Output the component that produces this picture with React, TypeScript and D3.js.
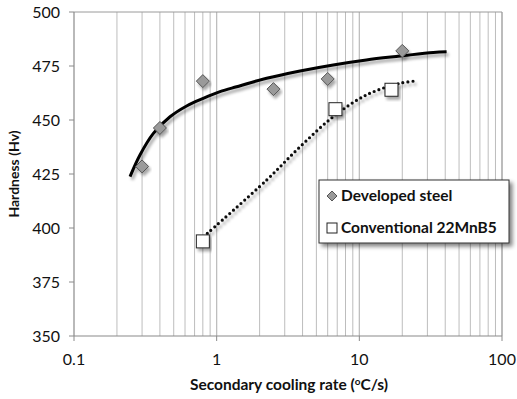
import React from "react";
import * as d3 from "d3";

const W = 517, H = 399;
const margin = { left: 74, right: 15, top: 12, bottom: 63 };

const xTicks = [0.1, 1, 10, 100];
const yTicks = [350, 375, 400, 425, 450, 475, 500];

const developedX = [0.3, 0.4, 0.8, 2.5, 6, 20];
const developedY = [428.5, 446.3, 468, 464.3, 469, 482];
const conventionalX = [0.8, 6.8, 16.8];
const conventionalY = [393.8, 455, 464];

// trend curves
const developedFitX = [0.247, 0.29, 0.36, 0.471, 0.616, 0.805, 1.055, 1.38, 2.24, 3.84, 6.56, 11.2, 19.3, 33, 40.9];
const developedFitY = [423.8, 433.8, 443.8, 451.5, 456.5, 460.0, 463.1, 465.4, 469.3, 472.7, 475.5, 477.8, 479.6, 481.3, 481.6];
const conventionalFitX = [0.86, 2.24, 3.84, 6.56, 11.2, 19.3, 25.2];
const conventionalFitY = [397.5, 422.2, 437.6, 451.5, 461.6, 467.0, 468.1];

const seriesNames = ["Developed steel", "Conventional 22MnB5"];

export default function App() {
  const x = d3.scaleLog().domain([0.1, 100]).range([margin.left, W - margin.right]);
  const y = d3.scaleLinear().domain([350, 500]).range([H - margin.bottom, margin.top]);
  const minor: number[] = [];
  for (let e = -1; e < 2; e++) {
    for (let k = 1; k <= 10; k++) {
      const v = k * Math.pow(10, e);
      if (v > 0.1 + 1e-9) minor.push(v);
    }
  }
  const line = d3.line<[number, number]>().x(d => x(d[0])).y(d => y(d[1])).curve(d3.curveCatmullRom.alpha(0.5));
  const devFit = line(developedFitX.map((v, i) => [v, developedFitY[i]] as [number, number]))!;
  const conFit = line(conventionalFitX.map((v, i) => [v, conventionalFitY[i]] as [number, number]))!;
  const font = "Lato, 'Open Sans', sans-serif";
  const x0 = margin.left, x1 = W - margin.right, y0 = H - margin.bottom, y1 = margin.top;
  const diamond = (cx: number, cy: number, r: number) =>
    `M${cx},${cy - r}L${cx + r},${cy}L${cx},${cy + r}L${cx - r},${cy}Z`;
  const lx = 319, ly = 180, lw = 190, lh = 63;
  return (
    <svg width={W} height={H} style={{ position: "absolute", left: 0, top: 0, background: "#fff" }}>
      <defs>
        <filter id="sh" x="-20%" y="-20%" width="140%" height="160%">
          <feGaussianBlur in="SourceAlpha" stdDeviation="1.5" />
          <feOffset dx="2" dy="3" result="b" />
          <feComponentTransfer><feFuncA type="linear" slope="0.35" /></feComponentTransfer>
          <feMerge><feMergeNode /><feMergeNode in="SourceGraphic" /></feMerge>
        </filter>
        <filter id="sh2" x="-20%" y="-20%" width="150%" height="160%">
          <feGaussianBlur in="SourceAlpha" stdDeviation="2" />
          <feOffset dx="3" dy="3" result="b" />
          <feComponentTransfer><feFuncA type="linear" slope="0.5" /></feComponentTransfer>
          <feMerge><feMergeNode /><feMergeNode in="SourceGraphic" /></feMerge>
        </filter>
      </defs>
      <rect x={0} y={0} width={W} height={H} fill="#fff" />
      {minor.map((v, i) => (
        <line key={i} x1={x(v)} x2={x(v)} y1={y1} y2={y0} stroke="#bdbdbd" strokeWidth={1} />
      ))}
      <line x1={x0} x2={x1} y1={y1} y2={y1} stroke="#9a9a9a" />
      <line x1={x1} x2={x1} y1={y1} y2={y0} stroke="#9a9a9a" />
      <line x1={x0} x2={x0} y1={y1} y2={y0} stroke="#8a8a8a" strokeWidth={1.2} />
      <line x1={x0} x2={x1} y1={y0} y2={y0} stroke="#8a8a8a" strokeWidth={1.2} />
      {yTicks.map(t => (
        <g key={t}>
          <line x1={x0 - 5} x2={x0} y1={y(t)} y2={y(t)} stroke="#8a8a8a" />
          <text x={x0 - 14} y={y(t) + 5.5} textAnchor="end" fontFamily={font} fontSize={16} fill="#111">{t}</text>
        </g>
      ))}
      {xTicks.map(t => (
        <g key={t}>
          <line x1={x(t)} x2={x(t)} y1={y0} y2={y0 + 5} stroke="#8a8a8a" />
          <text x={x(t)} y={365} textAnchor="middle" fontFamily={font} fontSize={16} fill="#111">{t}</text>
        </g>
      ))}
      <text x={289} y={390} textAnchor="middle" fontFamily={font} fontSize={15.5} fontWeight="bold" fill="#111">
        Secondary cooling rate (<tspan dy={-5} fontSize={10}>o</tspan><tspan dy={5}>C/s)</tspan>
      </text>
      <text transform={`translate(19,${(y0 + y1) / 2}) rotate(-90)`} textAnchor="middle" fontFamily={font} fontSize={14} fontWeight="bold" fill="#111">
        Hardness (Hv)
      </text>
      <path d={devFit} fill="none" stroke="#000" strokeWidth={3} filter="url(#sh)" />
      <path d={conFit} fill="none" stroke="#111" strokeWidth={3.2} strokeDasharray="0 5" strokeLinecap="round" filter="url(#sh)" />
      {developedX.map((v, i) => (
        <path key={i} d={diamond(x(v), y(developedY[i]), 6.5)} fill="#9a9a9a" stroke="#555" strokeWidth={1} filter="url(#sh)" />
      ))}
      {conventionalX.map((v, i) => (
        <rect key={i} x={x(v) - 6.5} y={y(conventionalY[i]) - 6.5} width={13} height={13} fill="#fff" stroke="#222" strokeWidth={1} filter="url(#sh)" />
      ))}
      <g filter="url(#sh2)">
        <rect x={lx} y={ly} width={lw} height={lh} fill="#fff" stroke="#333" strokeWidth={1} />
      </g>
      <path d={diamond(332, 196, 5)} fill="#9a9a9a" stroke="#555" strokeWidth={1} />
      <rect x={327} y={223} width={10} height={10} fill="#fff" stroke="#222" strokeWidth={1} />
      <text x={341} y={201} fontFamily={font} fontSize={15.5} fontWeight="bold" fill="#111">{seriesNames[0]}</text>
      <text x={341} y={233} fontFamily={font} fontSize={15.5} fontWeight="bold" fill="#111">{seriesNames[1]}</text>
    </svg>
  );
}
